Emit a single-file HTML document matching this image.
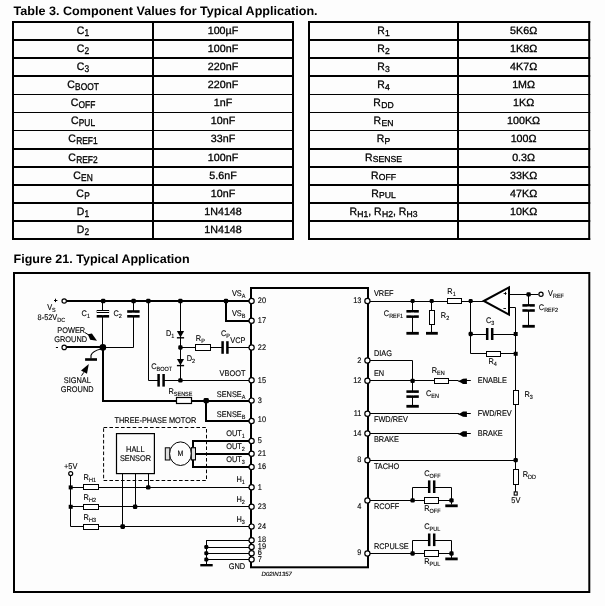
<!DOCTYPE html>
<html><head><meta charset="utf-8"><title>Typical Application</title>
<style>html,body{margin:0;padding:0;background:#fff;}body{width:605px;height:606px;overflow:hidden;font-family:"Liberation Sans",sans-serif;}svg{display:block;will-change:transform;}text{font-family:"Liberation Sans",sans-serif;fill:#000;stroke:none;text-rendering:geometricPrecision;}text.b{stroke:#000;stroke-width:0.3px;}text.d{stroke:#000;stroke-width:0.12px;}</style>
</head><body>
<svg width="605" height="606" viewBox="0 0 605 606" stroke="#000" fill="none">
<rect x="0" y="0" width="605" height="606" fill="#fdfdfd" stroke="none"/>
<text x="13.6" y="15.2" font-size="12.3" font-weight="bold" textLength="304" lengthAdjust="spacingAndGlyphs">Table 3. Component Values for Typical Application.</text>
<text x="13.6" y="263.2" font-size="12.3" font-weight="bold" textLength="176" lengthAdjust="spacingAndGlyphs">Figure 21. Typical Application</text>
<rect x="12.00" y="21.00" width="282.00" height="2.00" fill="#000" stroke="none"/>
<rect x="12.00" y="39.00" width="282.00" height="2.00" fill="#000" stroke="none"/>
<rect x="12.00" y="57.00" width="282.00" height="2.00" fill="#000" stroke="none"/>
<rect x="12.00" y="75.00" width="282.00" height="2.00" fill="#000" stroke="none"/>
<rect x="12.00" y="94.00" width="282.00" height="1.00" fill="#000" stroke="none"/>
<rect x="12.00" y="112.00" width="282.00" height="1.00" fill="#000" stroke="none"/>
<rect x="12.00" y="130.00" width="282.00" height="1.00" fill="#000" stroke="none"/>
<rect x="12.00" y="148.00" width="282.00" height="2.00" fill="#000" stroke="none"/>
<rect x="12.00" y="166.00" width="282.00" height="2.00" fill="#000" stroke="none"/>
<rect x="12.00" y="184.00" width="282.00" height="2.00" fill="#000" stroke="none"/>
<rect x="12.00" y="202.00" width="282.00" height="2.00" fill="#000" stroke="none"/>
<rect x="12.00" y="220.00" width="282.00" height="2.00" fill="#000" stroke="none"/>
<rect x="12.00" y="238.00" width="282.00" height="2.00" fill="#000" stroke="none"/>
<rect x="12.00" y="21.00" width="2.00" height="219.00" fill="#000" stroke="none"/>
<rect x="152.00" y="21.00" width="2.00" height="219.00" fill="#000" stroke="none"/>
<rect x="292.00" y="21.00" width="2.00" height="219.00" fill="#000" stroke="none"/>
<text transform="translate(76.74,34.00) scale(0.970,1)" font-size="10.80" class="b">C</text>
<text transform="translate(84.60,36.00) scale(0.855,1)" font-size="9.80" class="b">1</text>
<text transform="translate(207.71,34.00) scale(1.020,1)" font-size="10.50" class="b">100µF</text>
<text transform="translate(76.74,52.00) scale(0.970,1)" font-size="10.80" class="b">C</text>
<text transform="translate(84.60,54.00) scale(0.855,1)" font-size="9.80" class="b">2</text>
<text transform="translate(207.82,52.00) scale(1.020,1)" font-size="10.50" class="b">100nF</text>
<text transform="translate(76.74,70.00) scale(0.970,1)" font-size="10.80" class="b">C</text>
<text transform="translate(84.60,72.00) scale(0.855,1)" font-size="9.80" class="b">3</text>
<text transform="translate(207.82,70.00) scale(1.020,1)" font-size="10.50" class="b">220nF</text>
<text transform="translate(67.20,88.00) scale(0.970,1)" font-size="10.80" class="b">C</text>
<text transform="translate(75.06,90.00) scale(0.855,1)" font-size="9.80" class="b">BOOT</text>
<text transform="translate(207.82,88.00) scale(1.020,1)" font-size="10.50" class="b">220nF</text>
<text transform="translate(70.69,106.00) scale(0.970,1)" font-size="10.80" class="b">C</text>
<text transform="translate(78.56,108.00) scale(0.855,1)" font-size="9.80" class="b">OFF</text>
<text transform="translate(213.77,106.00) scale(1.020,1)" font-size="10.50" class="b">1nF</text>
<text transform="translate(70.92,124.00) scale(0.970,1)" font-size="10.80" class="b">C</text>
<text transform="translate(78.78,126.00) scale(0.855,1)" font-size="9.80" class="b">PUL</text>
<text transform="translate(210.79,124.00) scale(1.020,1)" font-size="10.50" class="b">10nF</text>
<text transform="translate(68.36,142.00) scale(0.970,1)" font-size="10.80" class="b">C</text>
<text transform="translate(76.22,144.00) scale(0.855,1)" font-size="9.80" class="b">REF1</text>
<text transform="translate(210.79,142.00) scale(1.020,1)" font-size="10.50" class="b">33nF</text>
<text transform="translate(68.36,161.00) scale(0.970,1)" font-size="10.80" class="b">C</text>
<text transform="translate(76.22,163.00) scale(0.855,1)" font-size="9.80" class="b">REF2</text>
<text transform="translate(207.82,161.00) scale(1.020,1)" font-size="10.50" class="b">100nF</text>
<text transform="translate(73.25,179.00) scale(0.970,1)" font-size="10.80" class="b">C</text>
<text transform="translate(81.11,181.00) scale(0.855,1)" font-size="9.80" class="b">EN</text>
<text transform="translate(209.31,179.00) scale(1.020,1)" font-size="10.50" class="b">5.6nF</text>
<text transform="translate(76.27,197.00) scale(0.970,1)" font-size="10.80" class="b">C</text>
<text transform="translate(84.14,199.00) scale(0.855,1)" font-size="9.80" class="b">P</text>
<text transform="translate(210.79,197.00) scale(1.020,1)" font-size="10.50" class="b">10nF</text>
<text transform="translate(76.74,215.00) scale(0.970,1)" font-size="10.80" class="b">D</text>
<text transform="translate(84.60,217.00) scale(0.855,1)" font-size="9.80" class="b">1</text>
<text transform="translate(204.24,215.00) scale(1.020,1)" font-size="10.50" class="b">1N4148</text>
<text transform="translate(76.74,233.00) scale(0.970,1)" font-size="10.80" class="b">D</text>
<text transform="translate(84.60,235.00) scale(0.855,1)" font-size="9.80" class="b">2</text>
<text transform="translate(204.24,233.00) scale(1.020,1)" font-size="10.50" class="b">1N4148</text>
<rect x="308.00" y="21.00" width="282.20" height="2.00" fill="#000" stroke="none"/>
<rect x="308.00" y="39.00" width="282.20" height="2.00" fill="#000" stroke="none"/>
<rect x="308.00" y="57.00" width="282.20" height="2.00" fill="#000" stroke="none"/>
<rect x="308.00" y="75.00" width="282.20" height="2.00" fill="#000" stroke="none"/>
<rect x="308.00" y="94.00" width="282.20" height="1.00" fill="#000" stroke="none"/>
<rect x="308.00" y="112.00" width="282.20" height="1.00" fill="#000" stroke="none"/>
<rect x="308.00" y="130.00" width="282.20" height="1.00" fill="#000" stroke="none"/>
<rect x="308.00" y="148.00" width="282.20" height="2.00" fill="#000" stroke="none"/>
<rect x="308.00" y="166.00" width="282.20" height="2.00" fill="#000" stroke="none"/>
<rect x="308.00" y="184.00" width="282.20" height="2.00" fill="#000" stroke="none"/>
<rect x="308.00" y="202.00" width="282.20" height="2.00" fill="#000" stroke="none"/>
<rect x="308.00" y="220.00" width="282.20" height="2.00" fill="#000" stroke="none"/>
<rect x="308.00" y="238.00" width="282.20" height="2.00" fill="#000" stroke="none"/>
<rect x="308.00" y="21.00" width="2.00" height="219.00" fill="#000" stroke="none"/>
<rect x="457.00" y="21.00" width="2.00" height="219.00" fill="#000" stroke="none"/>
<rect x="588.20" y="21.00" width="2.00" height="219.00" fill="#000" stroke="none"/>
<text transform="translate(377.18,34.00) scale(0.970,1)" font-size="10.80" class="b">R</text>
<text transform="translate(385.04,36.00) scale(1.000,1)" font-size="8.60" class="b">1</text>
<text transform="translate(510.07,34.00) scale(1.020,1)" font-size="10.50" class="b">5K6Ω</text>
<text transform="translate(377.18,52.00) scale(0.970,1)" font-size="10.80" class="b">R</text>
<text transform="translate(385.04,54.00) scale(1.000,1)" font-size="8.60" class="b">2</text>
<text transform="translate(510.07,52.00) scale(1.020,1)" font-size="10.50" class="b">1K8Ω</text>
<text transform="translate(377.18,70.00) scale(0.970,1)" font-size="10.80" class="b">R</text>
<text transform="translate(385.04,72.00) scale(1.000,1)" font-size="8.60" class="b">3</text>
<text transform="translate(510.07,70.00) scale(1.020,1)" font-size="10.50" class="b">4K7Ω</text>
<text transform="translate(377.18,88.00) scale(0.970,1)" font-size="10.80" class="b">R</text>
<text transform="translate(385.04,90.00) scale(1.000,1)" font-size="8.60" class="b">4</text>
<text transform="translate(512.16,88.00) scale(1.020,1)" font-size="10.50" class="b">1MΩ</text>
<text transform="translate(373.36,106.00) scale(0.970,1)" font-size="10.80" class="b">R</text>
<text transform="translate(381.22,108.00) scale(1.000,1)" font-size="8.60" class="b">DD</text>
<text transform="translate(513.05,106.00) scale(1.020,1)" font-size="10.50" class="b">1KΩ</text>
<text transform="translate(373.59,124.00) scale(0.970,1)" font-size="10.80" class="b">R</text>
<text transform="translate(381.46,126.00) scale(1.000,1)" font-size="8.60" class="b">EN</text>
<text transform="translate(507.09,124.00) scale(1.020,1)" font-size="10.50" class="b">100KΩ</text>
<text transform="translate(376.70,142.00) scale(0.970,1)" font-size="10.80" class="b">R</text>
<text transform="translate(384.56,144.00) scale(1.000,1)" font-size="8.60" class="b">P</text>
<text transform="translate(510.66,142.00) scale(1.020,1)" font-size="10.50" class="b">100Ω</text>
<text transform="translate(364.99,161.00) scale(0.970,1)" font-size="10.80" class="b">R</text>
<text transform="translate(372.85,162.00) scale(1.000,1)" font-size="8.60" class="b">SENSE</text>
<text transform="translate(512.15,161.00) scale(1.020,1)" font-size="10.50" class="b">0.3Ω</text>
<text transform="translate(370.97,179.00) scale(0.970,1)" font-size="10.80" class="b">R</text>
<text transform="translate(378.83,180.00) scale(1.000,1)" font-size="8.60" class="b">OFF</text>
<text transform="translate(510.07,179.00) scale(1.020,1)" font-size="10.50" class="b">33KΩ</text>
<text transform="translate(371.20,197.00) scale(0.970,1)" font-size="10.80" class="b">R</text>
<text transform="translate(379.07,198.00) scale(1.000,1)" font-size="8.60" class="b">PUL</text>
<text transform="translate(510.07,197.00) scale(1.020,1)" font-size="10.50" class="b">47KΩ</text>
<text transform="translate(349.39,215.00) scale(0.970,1)" font-size="10.80" class="b">R</text>
<text transform="translate(357.26,216.50) scale(1.000,1)" font-size="8.60" class="b">H1</text>
<text transform="translate(368.25,215.00) scale(0.970,1)" font-size="10.80" class="b">, R</text>
<text transform="translate(381.94,216.50) scale(1.000,1)" font-size="8.60" class="b">H2</text>
<text transform="translate(392.93,215.00) scale(0.970,1)" font-size="10.80" class="b">, R</text>
<text transform="translate(406.62,216.50) scale(1.000,1)" font-size="8.60" class="b">H3</text>
<text transform="translate(510.07,215.00) scale(1.020,1)" font-size="10.50" class="b">10KΩ</text>
<rect x="14" y="273" width="575.3" height="319" stroke-width="2"/>
<rect x="251.00" y="288.00" width="117.00" height="279.30" stroke-width="2"/>
<line x1="66.40" y1="301.00" x2="251.00" y2="301.00" stroke-width="2.00"/>
<line x1="102.50" y1="301.00" x2="102.50" y2="347.40" stroke-width="1.00"/>
<rect x="97.20" y="310.50" width="11.40" height="2.00" fill="#fff" stroke-width="1"/>
<rect x="96.70" y="315.00" width="12.40" height="2.60" fill="#000" stroke="none"/>
<path d="M133.50 301.50 L133.50 347.50 L102.50 347.50" fill="none" stroke-width="1.00" stroke-linejoin="miter"/>
<rect x="127.20" y="310.20" width="12.40" height="2.60" fill="#000" stroke="none"/>
<rect x="127.20" y="315.00" width="12.40" height="2.60" fill="#000" stroke="none"/>
<rect x="101.90" y="313.00" width="2.00" height="2.10" fill="#fdfdfd" stroke="none"/>
<rect x="132.40" y="312.70" width="2.00" height="2.40" fill="#fdfdfd" stroke="none"/>
<line x1="66.40" y1="347.00" x2="102.90" y2="347.00" stroke-width="2.00"/>
<path d="M103.00 347.00 L103.00 401.00 L251.00 401.00" fill="none" stroke-width="2.00" stroke-linejoin="miter"/>
<circle cx="102.90" cy="347.40" r="3.30" fill="#000" stroke="none"/>
<path d="M100.8 349.0 Q92.6 351.0 91.0 355.2 L91.0 358.4" stroke-width="1.1"/>
<rect x="85.10" y="358.20" width="11.90" height="2.60" fill="#000" stroke="none"/>
<path d="M85.0 332.6 L88.6 334.9" stroke-width="1.0"/>
<path d="M87.8 334.3 L91.9 333.6 L97.0 340.8 L90.2 339.7 Z" fill="#000" stroke="none"/>
<path d="M83.8 372.3 L81.5 375.7" stroke-width="1.0"/>
<path d="M88.8 364.0 L81.0 370.4 L87.0 373.8 Z" fill="#000" stroke="none"/>
<circle cx="64.20" cy="301.00" r="2.20" fill="#fff" stroke-width="1.20"/>
<circle cx="64.20" cy="347.40" r="2.20" fill="#fff" stroke-width="1.20"/>
<rect x="101.00" y="298.80" width="4.40" height="4.40" rx="1.3" fill="#000" stroke="none"/>
<rect x="131.40" y="298.80" width="4.40" height="4.40" rx="1.3" fill="#000" stroke="none"/>
<rect x="146.10" y="298.80" width="4.40" height="4.40" rx="1.3" fill="#000" stroke="none"/>
<rect x="178.20" y="298.80" width="4.40" height="4.40" rx="1.3" fill="#000" stroke="none"/>
<rect x="223.80" y="298.80" width="4.40" height="4.40" rx="1.3" fill="#000" stroke="none"/>
<line x1="54.00" y1="300.50" x2="57.40" y2="300.50" stroke-width="1.00"/>
<line x1="55.50" y1="298.70" x2="55.50" y2="302.10" stroke-width="1.00"/>
<line x1="55.90" y1="347.50" x2="58.00" y2="347.50" stroke-width="1.00"/>
<text transform="translate(47.20,310.30) scale(0.900,1)" font-size="8.20" text-anchor="start" class="d">V<tspan dy="2.10" font-size="6.10">S</tspan></text>
<text transform="translate(37.60,320.10) scale(0.900,1)" font-size="8.20" text-anchor="start" class="d">8-52V<tspan dy="2.10" font-size="6.10">DC</tspan></text>
<text transform="translate(81.60,315.50) scale(0.900,1)" font-size="8.20" text-anchor="start" class="d">C<tspan dy="2.10" font-size="6.10">1</tspan></text>
<text transform="translate(113.40,315.50) scale(0.900,1)" font-size="8.20" text-anchor="start" class="d">C<tspan dy="2.10" font-size="6.10">2</tspan></text>
<text transform="translate(57.30,332.90) scale(0.900,1)" font-size="8.20" text-anchor="start" class="d">POWER</text>
<text transform="translate(54.30,341.80) scale(0.900,1)" font-size="8.20" text-anchor="start" class="d">GROUND</text>
<text transform="translate(63.80,383.40) scale(0.900,1)" font-size="8.20" text-anchor="start" class="d">SIGNAL</text>
<text transform="translate(60.80,391.70) scale(0.900,1)" font-size="8.20" text-anchor="start" class="d">GROUND</text>
<path d="M226.00 301.00 L226.00 321.00 L251.00 321.00" fill="none" stroke-width="2.00" stroke-linejoin="miter"/>
<path d="M148.50 301.50 L148.50 380.50 L158.50 380.50" fill="none" stroke-width="1.00" stroke-linejoin="miter"/>
<line x1="163.60" y1="380.50" x2="251.00" y2="380.50" stroke-width="1.00"/>
<rect x="157.35" y="374.00" width="2.50" height="12.60" fill="#000" stroke="none"/>
<rect x="162.35" y="374.00" width="2.50" height="12.60" fill="#000" stroke="none"/>
<rect x="178.25" y="378.15" width="4.30" height="4.30" rx="1.3" fill="#000" stroke="none"/>
<line x1="180.50" y1="301.00" x2="180.50" y2="380.30" stroke-width="1.00"/>
<path d="M176.90 331.00 L184.10 331.00 L180.50 337.40 Z" fill="#000" stroke="none"/>
<rect x="176.90" y="337.10" width="7.20" height="1.40" fill="#000" stroke="none"/>
<path d="M176.90 359.00 L184.10 359.00 L180.50 365.20 Z" fill="#000" stroke="none"/>
<rect x="176.90" y="364.90" width="7.20" height="1.40" fill="#000" stroke="none"/>
<rect x="178.25" y="345.35" width="4.30" height="4.30" rx="1.3" fill="#000" stroke="none"/>
<line x1="180.40" y1="347.50" x2="222.60" y2="347.50" stroke-width="1.00"/>
<rect x="195.50" y="344.50" width="15.00" height="6.00" fill="#fff" stroke-width="1.00"/>
<rect x="221.35" y="341.20" width="2.50" height="12.60" fill="#000" stroke="none"/>
<rect x="226.15" y="341.20" width="2.50" height="12.60" fill="#000" stroke="none"/>
<line x1="227.40" y1="347.50" x2="251.00" y2="347.50" stroke-width="1.00"/>
<rect x="176.50" y="397.50" width="15.00" height="6.00" fill="#fff" stroke-width="1.20"/>
<path d="M206.00 401.00 L206.00 421.00 L251.00 421.00" fill="none" stroke-width="2.00" stroke-linejoin="miter"/>
<rect x="203.60" y="398.00" width="5.20" height="5.20" rx="1.3" fill="#000" stroke="none"/>
<text transform="translate(166.00,335.50) scale(0.900,1)" font-size="8.20" text-anchor="start" class="d">D<tspan dy="2.10" font-size="6.10">1</tspan></text>
<text transform="translate(186.70,361.10) scale(0.900,1)" font-size="8.20" text-anchor="start" class="d">D<tspan dy="2.10" font-size="6.10">2</tspan></text>
<text transform="translate(195.80,340.50) scale(0.900,1)" font-size="8.20" text-anchor="start" class="d">R<tspan dy="2.10" font-size="6.10">P</tspan></text>
<text transform="translate(221.00,335.70) scale(0.900,1)" font-size="8.20" text-anchor="start" class="d">C<tspan dy="2.10" font-size="6.10">P</tspan></text>
<text transform="translate(245.40,342.70) scale(0.900,1)" font-size="8.20" text-anchor="end" class="d">VCP</text>
<text transform="translate(245.40,295.50) scale(0.900,1)" font-size="8.20" text-anchor="end" class="d">VS<tspan dy="2.10" font-size="6.10">A</tspan></text>
<text transform="translate(245.40,316.10) scale(0.900,1)" font-size="8.20" text-anchor="end" class="d">VS<tspan dy="2.10" font-size="6.10">B</tspan></text>
<text transform="translate(245.40,376.10) scale(0.900,1)" font-size="8.20" text-anchor="end" class="d">VBOOT</text>
<text transform="translate(151.20,368.70) scale(0.900,1)" font-size="8.20" text-anchor="start" class="d">C<tspan dy="2.10" font-size="6.10">BOOT</tspan></text>
<text transform="translate(168.50,393.70) scale(0.900,1)" font-size="8.20" text-anchor="start" class="d">R<tspan dy="2.10" font-size="6.10">SENSE</tspan></text>
<text transform="translate(245.40,397.10) scale(0.900,1)" font-size="8.20" text-anchor="end" class="d">SENSE<tspan dy="2.10" font-size="6.10">A</tspan></text>
<text transform="translate(245.40,417.10) scale(0.900,1)" font-size="8.20" text-anchor="end" class="d">SENSE<tspan dy="2.10" font-size="6.10">B</tspan></text>
<text transform="translate(114.50,422.50) scale(0.900,1)" font-size="8.20" text-anchor="start" class="d">THREE-PHASE MOTOR</text>
<rect x="103.6" y="427.5" width="102.9" height="53" stroke-width="1" stroke-dasharray="3.6 2.2"/>
<rect x="116.5" y="433.6" width="37.9" height="40.0" stroke-width="1.2" fill="#fdfdfd"/>
<text transform="translate(135.30,451.50) scale(0.900,1)" font-size="8.20" text-anchor="middle" class="d">HALL</text>
<text transform="translate(135.50,461.00) scale(0.900,1)" font-size="8.20" text-anchor="middle" class="d">SENSOR</text>
<path d="M251.00 441.00 L193.00 441.00 L193.00 467.00 L251.00 467.00" fill="none" stroke-width="2.00" stroke-linejoin="miter"/>
<line x1="195.40" y1="454.00" x2="251.00" y2="454.00" stroke-width="2.00"/>
<rect x="165.3" y="447.8" width="4.6" height="12.2" fill="#dedede" stroke-width="1"/>
<rect x="191.3" y="447.8" width="4.2" height="12.0" fill="#dedede" stroke-width="1"/>
<ellipse cx="180.5" cy="453.7" rx="10.9" ry="11.8" stroke-width="1" fill="#fdfdfd"/>
<rect x="191.3" y="447.8" width="4.2" height="12.0" fill="#dedede" stroke-width="1"/>
<text transform="translate(180.50,455.70) scale(0.900,1)" font-size="7.80" text-anchor="middle" class="d">M</text>
<text transform="translate(244.80,435.50) scale(0.900,1)" font-size="8.20" text-anchor="end" class="d">OUT<tspan dy="2.10" font-size="6.10">1</tspan></text>
<text transform="translate(244.80,448.70) scale(0.900,1)" font-size="8.20" text-anchor="end" class="d">OUT<tspan dy="2.10" font-size="6.10">2</tspan></text>
<text transform="translate(244.80,461.70) scale(0.900,1)" font-size="8.20" text-anchor="end" class="d">OUT<tspan dy="2.10" font-size="6.10">3</tspan></text>
<line x1="70.70" y1="487.50" x2="251.00" y2="487.50" stroke-width="1.00"/>
<line x1="148.50" y1="473.60" x2="148.50" y2="487.20" stroke-width="1.00"/>
<line x1="70.70" y1="506.50" x2="251.00" y2="506.50" stroke-width="1.00"/>
<line x1="135.50" y1="473.60" x2="135.50" y2="506.80" stroke-width="1.00"/>
<line x1="70.70" y1="526.50" x2="251.00" y2="526.50" stroke-width="1.00"/>
<line x1="122.50" y1="473.60" x2="122.50" y2="526.60" stroke-width="1.00"/>
<line x1="70.50" y1="475.50" x2="70.50" y2="526.60" stroke-width="1.00"/>
<rect x="83.50" y="484.50" width="15.00" height="5.00" fill="#fff" stroke-width="1.00"/>
<rect x="83.50" y="504.50" width="15.00" height="5.00" fill="#fff" stroke-width="1.00"/>
<rect x="83.50" y="524.50" width="15.00" height="5.00" fill="#fff" stroke-width="1.00"/>
<rect x="68.70" y="485.40" width="4.00" height="4.00" fill="#000" stroke="none"/>
<rect x="68.70" y="504.80" width="4.00" height="4.00" fill="#000" stroke="none"/>
<rect x="146.00" y="485.20" width="4.40" height="4.40" rx="1.3" fill="#000" stroke="none"/>
<rect x="132.90" y="504.60" width="4.40" height="4.40" rx="1.3" fill="#000" stroke="none"/>
<rect x="120.40" y="524.30" width="4.60" height="4.60" rx="1.3" fill="#000" stroke="none"/>
<circle cx="70.70" cy="473.60" r="2.00" fill="#fff" stroke-width="1.20"/>
<text transform="translate(64.00,468.90) scale(0.900,1)" font-size="8.20" text-anchor="start" class="d">+5V</text>
<text transform="translate(83.60,480.10) scale(0.900,1)" font-size="8.20" text-anchor="start" class="d">R<tspan dy="2.10" font-size="6.10">H1</tspan></text>
<text transform="translate(83.60,499.90) scale(0.900,1)" font-size="8.20" text-anchor="start" class="d">R<tspan dy="2.10" font-size="6.10">H2</tspan></text>
<text transform="translate(83.60,519.70) scale(0.900,1)" font-size="8.20" text-anchor="start" class="d">R<tspan dy="2.10" font-size="6.10">H3</tspan></text>
<text transform="translate(244.80,482.10) scale(0.900,1)" font-size="8.20" text-anchor="end" class="d">H<tspan dy="2.10" font-size="6.10">1</tspan></text>
<text transform="translate(244.80,501.90) scale(0.900,1)" font-size="8.20" text-anchor="end" class="d">H<tspan dy="2.10" font-size="6.10">2</tspan></text>
<text transform="translate(244.80,521.70) scale(0.900,1)" font-size="8.20" text-anchor="end" class="d">H<tspan dy="2.10" font-size="6.10">3</tspan></text>
<line x1="206.30" y1="540.50" x2="251.00" y2="540.50" stroke-width="1.00"/>
<line x1="206.30" y1="547.50" x2="251.00" y2="547.50" stroke-width="1.00"/>
<line x1="206.30" y1="553.50" x2="251.00" y2="553.50" stroke-width="1.00"/>
<line x1="206.30" y1="559.50" x2="251.00" y2="559.50" stroke-width="1.00"/>
<line x1="206.50" y1="540.30" x2="206.50" y2="565.00" stroke-width="1.00"/>
<rect x="204.30" y="545.00" width="4.00" height="4.00" rx="1.3" fill="#000" stroke="none"/>
<rect x="204.30" y="551.20" width="4.00" height="4.00" rx="1.3" fill="#000" stroke="none"/>
<rect x="204.30" y="557.50" width="4.00" height="4.00" rx="1.3" fill="#000" stroke="none"/>
<rect x="200.30" y="564.00" width="12.40" height="2.40" fill="#000" stroke="none"/>
<text transform="translate(245.20,568.80) scale(0.900,1)" font-size="8.20" text-anchor="end" class="d">GND</text>
<text transform="translate(261.6,575.8) scale(1.0,1)" font-size="6.0" font-style="italic" class="d">D02IN1357</text>
<circle cx="251.60" cy="301.00" r="2.60" fill="#fff" stroke-width="1.20"/>
<text transform="translate(257.80,303.30) scale(0.900,1)" font-size="8.20" text-anchor="start" class="d">20</text>
<circle cx="251.60" cy="320.80" r="2.60" fill="#fff" stroke-width="1.20"/>
<text transform="translate(257.80,323.10) scale(0.900,1)" font-size="8.20" text-anchor="start" class="d">17</text>
<circle cx="251.60" cy="347.40" r="2.60" fill="#fff" stroke-width="1.20"/>
<text transform="translate(257.80,349.70) scale(0.900,1)" font-size="8.20" text-anchor="start" class="d">22</text>
<circle cx="251.60" cy="380.30" r="2.60" fill="#fff" stroke-width="1.20"/>
<text transform="translate(257.80,382.60) scale(0.900,1)" font-size="8.20" text-anchor="start" class="d">15</text>
<circle cx="251.60" cy="400.60" r="2.60" fill="#fff" stroke-width="1.20"/>
<text transform="translate(257.80,402.90) scale(0.900,1)" font-size="8.20" text-anchor="start" class="d">3</text>
<circle cx="251.60" cy="421.00" r="2.60" fill="#fff" stroke-width="1.20"/>
<text transform="translate(257.80,422.40) scale(0.900,1)" font-size="8.20" text-anchor="start" class="d">10</text>
<circle cx="251.60" cy="440.90" r="2.60" fill="#fff" stroke-width="1.20"/>
<text transform="translate(257.80,442.50) scale(0.900,1)" font-size="8.20" text-anchor="start" class="d">5</text>
<circle cx="251.60" cy="453.80" r="2.60" fill="#fff" stroke-width="1.20"/>
<text transform="translate(257.80,456.10) scale(0.900,1)" font-size="8.20" text-anchor="start" class="d">21</text>
<circle cx="251.60" cy="466.90" r="2.60" fill="#fff" stroke-width="1.20"/>
<text transform="translate(257.80,469.20) scale(0.900,1)" font-size="8.20" text-anchor="start" class="d">16</text>
<circle cx="251.60" cy="487.20" r="2.60" fill="#fff" stroke-width="1.20"/>
<text transform="translate(257.80,489.50) scale(0.900,1)" font-size="8.20" text-anchor="start" class="d">1</text>
<circle cx="251.60" cy="506.80" r="2.60" fill="#fff" stroke-width="1.20"/>
<text transform="translate(257.80,509.10) scale(0.900,1)" font-size="8.20" text-anchor="start" class="d">23</text>
<circle cx="251.60" cy="526.60" r="2.60" fill="#fff" stroke-width="1.20"/>
<text transform="translate(257.80,528.90) scale(0.900,1)" font-size="8.20" text-anchor="start" class="d">24</text>
<circle cx="251.60" cy="540.30" r="2.60" fill="#fff" stroke-width="1.20"/>
<text transform="translate(257.80,541.70) scale(0.900,1)" font-size="8.20" text-anchor="start" class="d">18</text>
<circle cx="251.60" cy="547.00" r="2.60" fill="#fff" stroke-width="1.20"/>
<text transform="translate(257.80,548.60) scale(0.900,1)" font-size="8.20" text-anchor="start" class="d">19</text>
<circle cx="251.60" cy="553.20" r="2.60" fill="#fff" stroke-width="1.20"/>
<text transform="translate(257.80,554.60) scale(0.900,1)" font-size="8.20" text-anchor="start" class="d">6</text>
<circle cx="251.60" cy="559.50" r="2.60" fill="#fff" stroke-width="1.20"/>
<text transform="translate(257.80,561.60) scale(0.900,1)" font-size="8.20" text-anchor="start" class="d">7</text>
<line x1="368.00" y1="301.50" x2="483.50" y2="301.50" stroke-width="1.00"/>
<rect x="447.50" y="298.50" width="14.00" height="5.00" fill="#fff" stroke-width="1.00"/>
<rect x="410.60" y="299.00" width="4.00" height="4.00" rx="1.3" fill="#000" stroke="none"/>
<rect x="429.70" y="299.00" width="4.00" height="4.00" rx="1.3" fill="#000" stroke="none"/>
<rect x="468.70" y="299.00" width="4.00" height="4.00" rx="1.3" fill="#000" stroke="none"/>
<line x1="412.50" y1="301.00" x2="412.50" y2="333.20" stroke-width="1.00"/>
<rect x="406.40" y="310.00" width="12.40" height="2.60" fill="#000" stroke="none"/>
<rect x="406.40" y="315.30" width="12.40" height="2.60" fill="#000" stroke="none"/>
<rect x="411.60" y="312.50" width="2.00" height="2.90" fill="#fdfdfd" stroke="none"/>
<rect x="406.40" y="331.90" width="12.40" height="2.80" fill="#000" stroke="none"/>
<line x1="431.50" y1="301.00" x2="431.50" y2="333.20" stroke-width="1.00"/>
<rect x="429.50" y="310.50" width="5.00" height="14.00" fill="#fff" stroke-width="1.00"/>
<rect x="426.00" y="331.90" width="11.80" height="2.80" fill="#000" stroke="none"/>
<path d="M483.8 301 L509 287.4 L509 314.6 Z" stroke-width="2" stroke-linejoin="miter" fill="#fff"/>
<line x1="503.60" y1="293.50" x2="506.60" y2="293.50" stroke-width="0.90"/>
<line x1="505.50" y1="291.90" x2="505.50" y2="294.90" stroke-width="0.90"/>
<line x1="503.40" y1="308.50" x2="506.00" y2="308.50" stroke-width="0.90"/>
<path d="M509.50 294.50 L538.50 294.50" fill="none" stroke-width="1.00" stroke-linejoin="miter"/>
<rect x="526.45" y="292.15" width="4.30" height="4.30" rx="1.3" fill="#000" stroke="none"/>
<circle cx="541.00" cy="294.30" r="2.10" fill="#fff" stroke-width="1.20"/>
<line x1="528.50" y1="294.30" x2="528.50" y2="326.20" stroke-width="1.00"/>
<rect x="522.40" y="304.10" width="12.40" height="2.60" fill="#000" stroke="none"/>
<rect x="522.40" y="309.20" width="12.40" height="2.60" fill="#000" stroke="none"/>
<rect x="527.60" y="306.50" width="2.00" height="2.90" fill="#fff" stroke="none"/>
<rect x="522.40" y="324.90" width="12.40" height="2.80" fill="#000" stroke="none"/>
<path d="M509.50 307.50 L515.50 307.50 L515.50 390.50" fill="none" stroke-width="1.00" stroke-linejoin="miter"/>
<path d="M470.50 301.50 L470.50 353.50 L515.50 353.50" fill="none" stroke-width="1.00" stroke-linejoin="miter"/>
<line x1="470.70" y1="334.50" x2="487.20" y2="334.50" stroke-width="1.00"/>
<line x1="492.20" y1="334.50" x2="515.70" y2="334.50" stroke-width="1.00"/>
<rect x="485.95" y="328.00" width="2.50" height="12.00" fill="#000" stroke="none"/>
<rect x="490.95" y="328.00" width="2.50" height="12.00" fill="#000" stroke="none"/>
<rect x="486.50" y="351.50" width="14.00" height="5.00" fill="#fff" stroke-width="1.00"/>
<rect x="468.55" y="331.85" width="4.30" height="4.30" rx="1.3" fill="#000" stroke="none"/>
<rect x="513.70" y="332.00" width="4.00" height="4.00" fill="#000" stroke="none"/>
<rect x="513.70" y="351.80" width="4.00" height="4.00" fill="#000" stroke="none"/>
<line x1="515.50" y1="404.30" x2="515.50" y2="491.80" stroke-width="1.00"/>
<rect x="513.50" y="390.50" width="5.00" height="14.00" fill="#fff" stroke-width="1.00"/>
<rect x="513.50" y="469.50" width="5.00" height="15.00" fill="#fff" stroke-width="1.00"/>
<rect x="513.55" y="458.05" width="4.30" height="4.30" rx="1.3" fill="#000" stroke="none"/>
<rect x="514.2" y="491.9" width="3.0" height="3.2" fill="#fff" stroke-width="1.1"/>
<path d="M368.50 360.50 L412.50 360.50 L412.50 380.50" fill="none" stroke-width="1.00" stroke-linejoin="miter"/>
<line x1="368.00" y1="380.50" x2="458.60" y2="380.50" stroke-width="1.00"/>
<rect x="434.50" y="378.50" width="14.00" height="5.00" fill="#fff" stroke-width="1.00"/>
<rect x="410.45" y="378.65" width="4.30" height="4.30" rx="1.3" fill="#000" stroke="none"/>
<line x1="412.50" y1="380.80" x2="412.50" y2="406.20" stroke-width="1.00"/>
<rect x="406.40" y="390.30" width="12.40" height="2.60" fill="#000" stroke="none"/>
<rect x="406.40" y="395.30" width="12.40" height="2.60" fill="#000" stroke="none"/>
<rect x="411.60" y="392.90" width="2.00" height="2.40" fill="#fdfdfd" stroke="none"/>
<rect x="406.40" y="404.90" width="12.40" height="2.80" fill="#000" stroke="none"/>
<path d="M457.60 381.30 L460.67 380.12 L462.99 378.64 L466.90 378.50 L466.90 384.10 L462.99 383.96 L460.67 382.48 Z" fill="#000" stroke="none"/>
<line x1="462.00" y1="380.50" x2="470.80" y2="380.50" stroke-width="1.00"/>
<path d="M457.60 414.20 L460.67 413.02 L462.99 411.54 L466.90 411.40 L466.90 417.00 L462.99 416.86 L460.67 415.38 Z" fill="#000" stroke="none"/>
<line x1="462.00" y1="413.50" x2="470.80" y2="413.50" stroke-width="1.00"/>
<path d="M457.60 434.00 L460.67 432.82 L462.99 431.34 L466.90 431.20 L466.90 436.80 L462.99 436.66 L460.67 435.18 Z" fill="#000" stroke="none"/>
<line x1="462.00" y1="433.50" x2="470.80" y2="433.50" stroke-width="1.00"/>
<line x1="368.00" y1="413.50" x2="459.00" y2="413.50" stroke-width="1.00"/>
<line x1="368.00" y1="433.50" x2="459.00" y2="433.50" stroke-width="1.00"/>
<line x1="368.00" y1="460.50" x2="515.70" y2="460.50" stroke-width="1.00"/>
<line x1="368.00" y1="500.50" x2="451.50" y2="500.50" stroke-width="1.00"/>
<rect x="424.50" y="497.50" width="14.00" height="6.00" fill="#fff" stroke-width="1.00"/>
<path d="M412.50 500.50 L412.50 487.50 L429.50 487.50" fill="none" stroke-width="1.00" stroke-linejoin="miter"/>
<path d="M434.50 487.50 L451.50 487.50 L451.50 504.50" fill="none" stroke-width="1.00" stroke-linejoin="miter"/>
<rect x="427.95" y="480.40" width="2.50" height="12.60" fill="#000" stroke="none"/>
<rect x="432.95" y="480.40" width="2.50" height="12.60" fill="#000" stroke="none"/>
<rect x="410.45" y="498.25" width="4.30" height="4.30" rx="1.3" fill="#000" stroke="none"/>
<rect x="449.35" y="498.25" width="4.30" height="4.30" rx="1.3" fill="#000" stroke="none"/>
<rect x="445.30" y="504.40" width="12.40" height="2.80" fill="#000" stroke="none"/>
<line x1="368.00" y1="553.50" x2="451.50" y2="553.50" stroke-width="1.00"/>
<rect x="424.50" y="550.50" width="14.00" height="6.00" fill="#fff" stroke-width="1.00"/>
<path d="M412.50 553.50 L412.50 540.50 L429.50 540.50" fill="none" stroke-width="1.00" stroke-linejoin="miter"/>
<path d="M434.50 540.50 L451.50 540.50 L451.50 558.50" fill="none" stroke-width="1.00" stroke-linejoin="miter"/>
<rect x="427.95" y="533.50" width="2.50" height="12.60" fill="#000" stroke="none"/>
<rect x="432.95" y="533.50" width="2.50" height="12.60" fill="#000" stroke="none"/>
<rect x="410.45" y="551.35" width="4.30" height="4.30" rx="1.3" fill="#000" stroke="none"/>
<rect x="449.35" y="551.35" width="4.30" height="4.30" rx="1.3" fill="#000" stroke="none"/>
<rect x="445.30" y="557.50" width="12.40" height="2.80" fill="#000" stroke="none"/>
<text transform="translate(373.90,295.50) scale(0.900,1)" font-size="8.20" text-anchor="start" class="d">VREF</text>
<text transform="translate(373.90,355.70) scale(0.900,1)" font-size="8.20" text-anchor="start" class="d">DIAG</text>
<text transform="translate(373.90,376.10) scale(0.900,1)" font-size="8.20" text-anchor="start" class="d">EN</text>
<text transform="translate(373.90,421.80) scale(0.900,1)" font-size="8.20" text-anchor="start" class="d">FWD/REV</text>
<text transform="translate(373.90,442.10) scale(0.900,1)" font-size="8.20" text-anchor="start" class="d">BRAKE</text>
<text transform="translate(373.90,468.90) scale(0.900,1)" font-size="8.20" text-anchor="start" class="d">TACHO</text>
<text transform="translate(373.90,509.10) scale(0.900,1)" font-size="8.20" text-anchor="start" class="d">RCOFF</text>
<text transform="translate(373.90,548.70) scale(0.900,1)" font-size="8.20" text-anchor="start" class="d">RCPULSE</text>
<text transform="translate(383.80,316.10) scale(0.900,1)" font-size="8.20" text-anchor="start" class="d">C<tspan dy="2.10" font-size="6.10">REF1</tspan></text>
<text transform="translate(440.80,317.50) scale(0.900,1)" font-size="8.20" text-anchor="start" class="d">R<tspan dy="2.10" font-size="6.10">2</tspan></text>
<text transform="translate(447.30,293.70) scale(0.900,1)" font-size="8.20" text-anchor="start" class="d">R<tspan dy="2.10" font-size="6.10">1</tspan></text>
<text transform="translate(548.00,295.50) scale(0.900,1)" font-size="8.20" text-anchor="start" class="d">V<tspan dy="2.10" font-size="6.10">REF</tspan></text>
<text transform="translate(538.80,309.50) scale(0.900,1)" font-size="8.20" text-anchor="start" class="d">C<tspan dy="2.10" font-size="6.10">REF2</tspan></text>
<text transform="translate(486.00,322.70) scale(0.900,1)" font-size="8.20" text-anchor="start" class="d">C<tspan dy="2.10" font-size="6.10">3</tspan></text>
<text transform="translate(488.50,364.10) scale(0.900,1)" font-size="8.20" text-anchor="start" class="d">R<tspan dy="2.10" font-size="6.10">4</tspan></text>
<text transform="translate(524.40,397.30) scale(0.900,1)" font-size="8.20" text-anchor="start" class="d">R<tspan dy="2.10" font-size="6.10">3</tspan></text>
<text transform="translate(431.70,372.50) scale(0.900,1)" font-size="8.20" text-anchor="start" class="d">R<tspan dy="2.10" font-size="6.10">EN</tspan></text>
<text transform="translate(426.00,395.70) scale(0.900,1)" font-size="8.20" text-anchor="start" class="d">C<tspan dy="2.10" font-size="6.10">EN</tspan></text>
<text transform="translate(477.80,383.10) scale(0.900,1)" font-size="8.20" text-anchor="start" class="d">ENABLE</text>
<text transform="translate(477.80,415.70) scale(0.900,1)" font-size="8.20" text-anchor="start" class="d">FWD/REV</text>
<text transform="translate(477.80,436.00) scale(0.900,1)" font-size="8.20" text-anchor="start" class="d">BRAKE</text>
<text transform="translate(522.70,477.10) scale(0.900,1)" font-size="8.20" text-anchor="start" class="d">R<tspan dy="2.10" font-size="6.10">DD</tspan></text>
<text transform="translate(511.30,502.90) scale(0.900,1)" font-size="8.20" text-anchor="start" class="d">5V</text>
<text transform="translate(424.20,475.90) scale(0.900,1)" font-size="8.20" text-anchor="start" class="d">C<tspan dy="2.10" font-size="6.10">OFF</tspan></text>
<text transform="translate(424.20,510.70) scale(0.900,1)" font-size="8.20" text-anchor="start" class="d">R<tspan dy="2.10" font-size="6.10">OFF</tspan></text>
<text transform="translate(424.20,528.90) scale(0.900,1)" font-size="8.20" text-anchor="start" class="d">C<tspan dy="2.10" font-size="6.10">PUL</tspan></text>
<text transform="translate(424.20,563.90) scale(0.900,1)" font-size="8.20" text-anchor="start" class="d">R<tspan dy="2.10" font-size="6.10">PUL</tspan></text>
<circle cx="367.40" cy="301.00" r="2.60" fill="#fff" stroke-width="1.20"/>
<text transform="translate(361.40,303.30) scale(0.900,1)" font-size="8.20" text-anchor="end" class="d">13</text>
<circle cx="367.40" cy="360.50" r="2.60" fill="#fff" stroke-width="1.20"/>
<text transform="translate(361.40,362.80) scale(0.900,1)" font-size="8.20" text-anchor="end" class="d">2</text>
<circle cx="367.40" cy="380.80" r="2.60" fill="#fff" stroke-width="1.20"/>
<text transform="translate(361.40,383.10) scale(0.900,1)" font-size="8.20" text-anchor="end" class="d">12</text>
<circle cx="367.40" cy="413.70" r="2.60" fill="#fff" stroke-width="1.20"/>
<text transform="translate(361.40,416.00) scale(0.900,1)" font-size="8.20" text-anchor="end" class="d">11</text>
<circle cx="367.40" cy="433.50" r="2.60" fill="#fff" stroke-width="1.20"/>
<text transform="translate(361.40,435.80) scale(0.900,1)" font-size="8.20" text-anchor="end" class="d">14</text>
<circle cx="367.40" cy="460.20" r="2.60" fill="#fff" stroke-width="1.20"/>
<text transform="translate(361.40,461.70) scale(0.900,1)" font-size="8.20" text-anchor="end" class="d">8</text>
<circle cx="367.40" cy="500.40" r="2.60" fill="#fff" stroke-width="1.20"/>
<text transform="translate(361.40,509.30) scale(0.900,1)" font-size="8.20" text-anchor="end" class="d">4</text>
<circle cx="367.40" cy="553.50" r="2.60" fill="#fff" stroke-width="1.20"/>
<text transform="translate(361.40,554.60) scale(0.900,1)" font-size="8.20" text-anchor="end" class="d">9</text>
</svg>
</body></html>
